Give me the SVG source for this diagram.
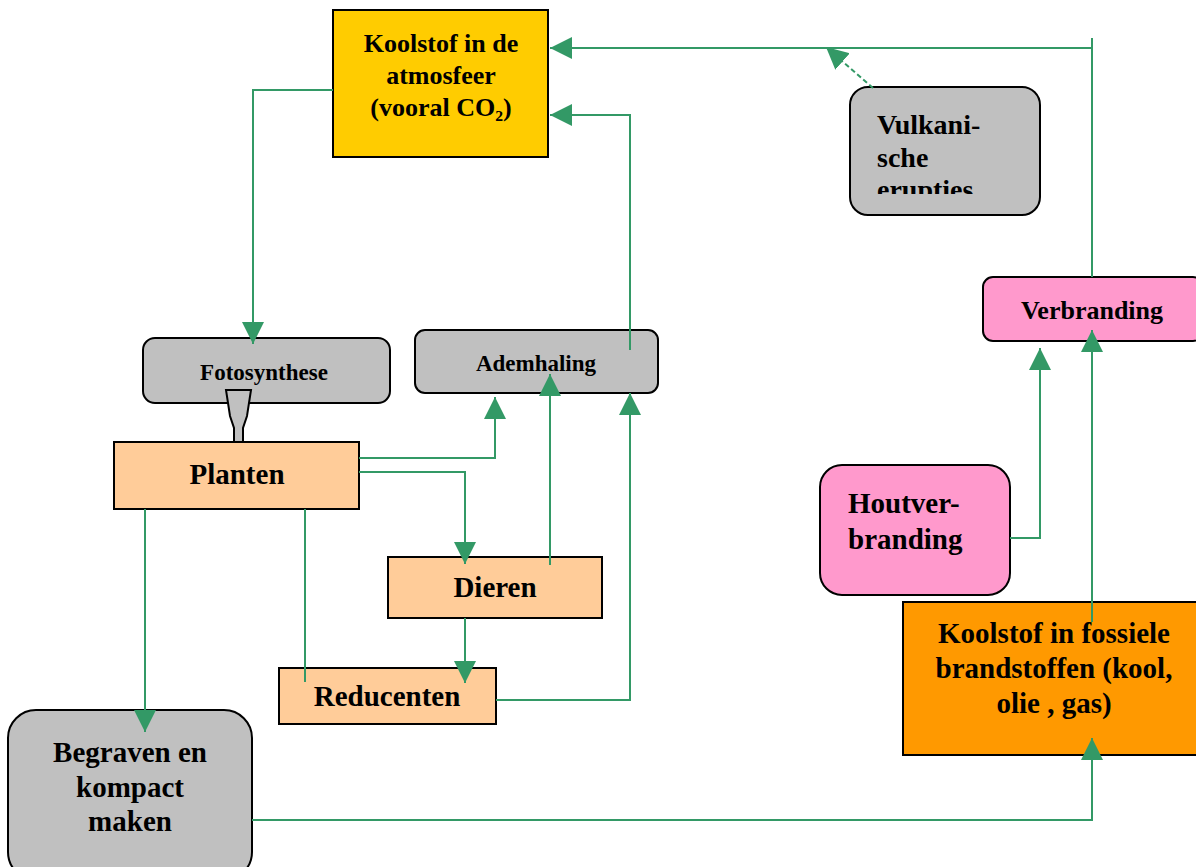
<svg xmlns="http://www.w3.org/2000/svg" width="1196" height="867" viewBox="0 0 1196 867">
<style>
.box{stroke:#000;stroke-width:2}
.gray{fill:#C0C0C0}
.peach{fill:#FFCC99}
.pink{fill:#FF99CC}
.t{font-family:"Liberation Serif","Times New Roman",serif;font-weight:bold;fill:#000}
.c{fill:none;stroke:#339966;stroke-width:2}
</style>
<defs>
<marker id="ah" markerUnits="userSpaceOnUse" markerWidth="24" markerHeight="24" refX="22" refY="11" orient="auto">
<path d="M0,0 L22,11 L0,22 z" fill="#339966"/>
</marker>
<clipPath id="vclip"><rect x="850" y="87" width="190" height="107"/></clipPath>
</defs>
<rect width="1196" height="867" fill="#fff"/>
<g id="atmosfeer">
<rect class="box" x="333" y="10" width="215" height="147" fill="#FFCC00"/>
<text class="t" font-size="26" text-anchor="middle" x="441" y="52">Koolstof in de</text>
<text class="t" font-size="26" text-anchor="middle" x="441" y="84">atmosfeer</text>
<text class="t" font-size="26" text-anchor="middle" x="441" y="116">(vooral CO₂)</text>
</g>
<g id="vulkanisch">
<rect class="box gray" x="850" y="87" width="190" height="128" rx="18"/>
<g clip-path="url(#vclip)">
<text class="t" font-size="28" x="877" y="134">Vulkani-</text>
<text class="t" font-size="28" x="877" y="167">sche</text>
<text class="t" font-size="28" x="877" y="199">erupties</text>
</g>
</g>
<g id="fotosynthese">
<rect class="box gray" x="143" y="338" width="247" height="65" rx="12"/>
<text class="t" font-size="23" text-anchor="middle" x="264" y="380">Fotosynthese</text>
<polygon points="226,390 251,390 247,416 243,428 243,442 234,442 234,428 230,416" fill="#C0C0C0" stroke="#000" stroke-width="2"/>
</g>
<g id="ademhaling">
<rect class="box gray" x="415" y="330" width="243" height="63" rx="10"/>
<text class="t" font-size="23" text-anchor="middle" x="536" y="371">Ademhaling</text>
</g>
<g id="planten">
<rect class="box peach" x="114" y="442" width="245" height="67"/>
<text class="t" font-size="29" text-anchor="middle" x="237" y="484">Planten</text>
</g>
<g id="dieren">
<rect class="box peach" x="388" y="557" width="214" height="61"/>
<text class="t" font-size="29" text-anchor="middle" x="495" y="597">Dieren</text>
</g>
<g id="reducenten">
<rect class="box peach" x="279" y="668" width="217" height="56"/>
<text class="t" font-size="29" text-anchor="middle" x="387" y="706">Reducenten</text>
</g>
<g id="begraven">
<rect class="box gray" x="8" y="710" width="244" height="170" rx="28"/>
<text class="t" font-size="29" text-anchor="middle" x="130" y="762">Begraven en</text>
<text class="t" font-size="29" text-anchor="middle" x="130" y="797">kompact</text>
<text class="t" font-size="29" text-anchor="middle" x="130" y="831">maken</text>
</g>
<g id="verbranding">
<rect class="box pink" x="983" y="277" width="220" height="64" rx="10"/>
<text class="t" font-size="26" text-anchor="middle" x="1092" y="319">Verbranding</text>
</g>
<g id="houtverbranding">
<rect class="box pink" x="820" y="465" width="190" height="130" rx="22"/>
<text class="t" font-size="29" x="848" y="513">Houtver-</text>
<text class="t" font-size="29" x="848" y="549">branding</text>
</g>
<g id="fossiel">
<rect class="box" x="903" y="602" width="300" height="153" fill="#FF9900"/>
<text class="t" font-size="29" text-anchor="middle" x="1054" y="643">Koolstof in fossiele</text>
<text class="t" font-size="29" text-anchor="middle" x="1054" y="678">brandstoffen (kool,</text>
<text class="t" font-size="29" text-anchor="middle" x="1054" y="713">olie , gas)</text>
</g>
<g id="connectors">
<path class="c" d="M1092,277 V48 H550" marker-end="url(#ah)"/>
<path class="c" d="M1092,48 V38"/>
<path class="c" d="M630,350 V115 H550" marker-end="url(#ah)"/>
<path class="c" d="M333,90 H253 V344" marker-end="url(#ah)"/>
<path class="c" d="M359,458 H495 V397" marker-end="url(#ah)"/>
<path class="c" d="M359,472 H465 V564" marker-end="url(#ah)"/>
<path class="c" d="M550,565 V374" marker-end="url(#ah)"/>
<path class="c" d="M496,700 H630 V393" marker-end="url(#ah)"/>
<path class="c" d="M465,618 V683" marker-end="url(#ah)"/>
<path class="c" d="M305,509 V682"/>
<path class="c" d="M145,509 V732" marker-end="url(#ah)"/>
<path class="c" d="M252,820 H1092 V738" marker-end="url(#ah)"/>
<path class="c" d="M1092,622 V330" marker-end="url(#ah)"/>
<path class="c" d="M1010,538 H1040 V348" marker-end="url(#ah)"/>
<path class="c" d="M873,88 L826,47" stroke-dasharray="5,3" marker-end="url(#ah)"/>
</g>
</svg>
